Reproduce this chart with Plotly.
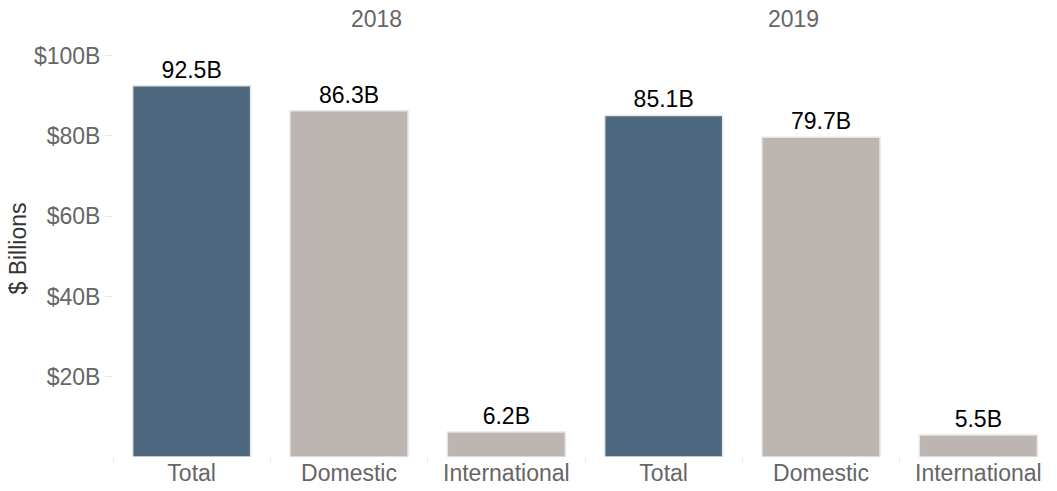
import plotly.graph_objects as go

years = ["2018", "2019"]
categories = ["Total", "Domestic", "International"]
values_2018 = [92.5, 86.3, 6.2]
values_2019 = [85.1, 79.7, 5.5]
labels_2018 = ["92.5B", "86.3B", "6.2B"]
labels_2019 = ["85.1B", "79.7B", "5.5B"]
y_ticks = [20, 40, 60, 80, 100]
y_tick_text = ["$20B", "$40B", "$60B", "$80B", "$100B"]

bar_colors = ["#4e687f", "#bdb5b2", "#bdb5b2"]
FONT = "Liberation Sans, Arial, sans-serif"
FS = 23

fig = go.Figure()
for i, (vals, labs) in enumerate([(values_2018, labels_2018), (values_2019, labels_2019)]):
    fig.add_trace(go.Bar(
        x=categories, y=vals, text=labs, textposition="outside",
        textfont=dict(family=FONT, size=FS, color="#000000"),
        marker=dict(color=bar_colors, line=dict(color="#e6e6e6", width=1.5)),
        cliponaxis=False, showlegend=False,
        xaxis="x" if i == 0 else "x2", yaxis="y" if i == 0 else "y2",
    ))

axis_x = dict(showgrid=False, zeroline=False, showline=False, ticks="outside",
              tickson="boundaries", ticklen=5, tickcolor="#e6e6e6",
              tickfont=dict(family=FONT, size=FS, color="#666666"))

fig.update_layout(
    width=1057, height=491,
    margin=dict(l=113, r=0, t=40, b=34),
    paper_bgcolor="white", plot_bgcolor="white",
    bargap=0.25,
    xaxis=dict(domain=[0, 0.5], **axis_x),
    xaxis2=dict(domain=[0.5, 1], **axis_x),
    yaxis=dict(range=[0, 103.9], tickvals=y_ticks, ticktext=y_tick_text,
               showgrid=False, zeroline=False, showline=False,
               ticks="outside", ticklen=7, tickcolor="#e6e6e6",
               tickfont=dict(family=FONT, size=FS, color="#666666"),
               title=dict(text="$ Billions", font=dict(family=FONT, size=23, color="#333333"),
                          standoff=0)),
    yaxis2=dict(range=[0, 103.9], anchor="x2", matches="y", showticklabels=False,
                showgrid=False, zeroline=False, showline=False, ticks=""),
    annotations=[
        dict(text=years[0], x=0.25, xref="paper", y=1, yref="paper", yanchor="bottom",
             yshift=6, showarrow=False, font=dict(family=FONT, size=FS, color="#666666")),
        dict(text=years[1], x=0.75, xref="paper", y=1, yref="paper", yanchor="bottom",
             yshift=6, showarrow=False, font=dict(family=FONT, size=FS, color="#666666")),
    ],
)

fig.write_html("out.html")
